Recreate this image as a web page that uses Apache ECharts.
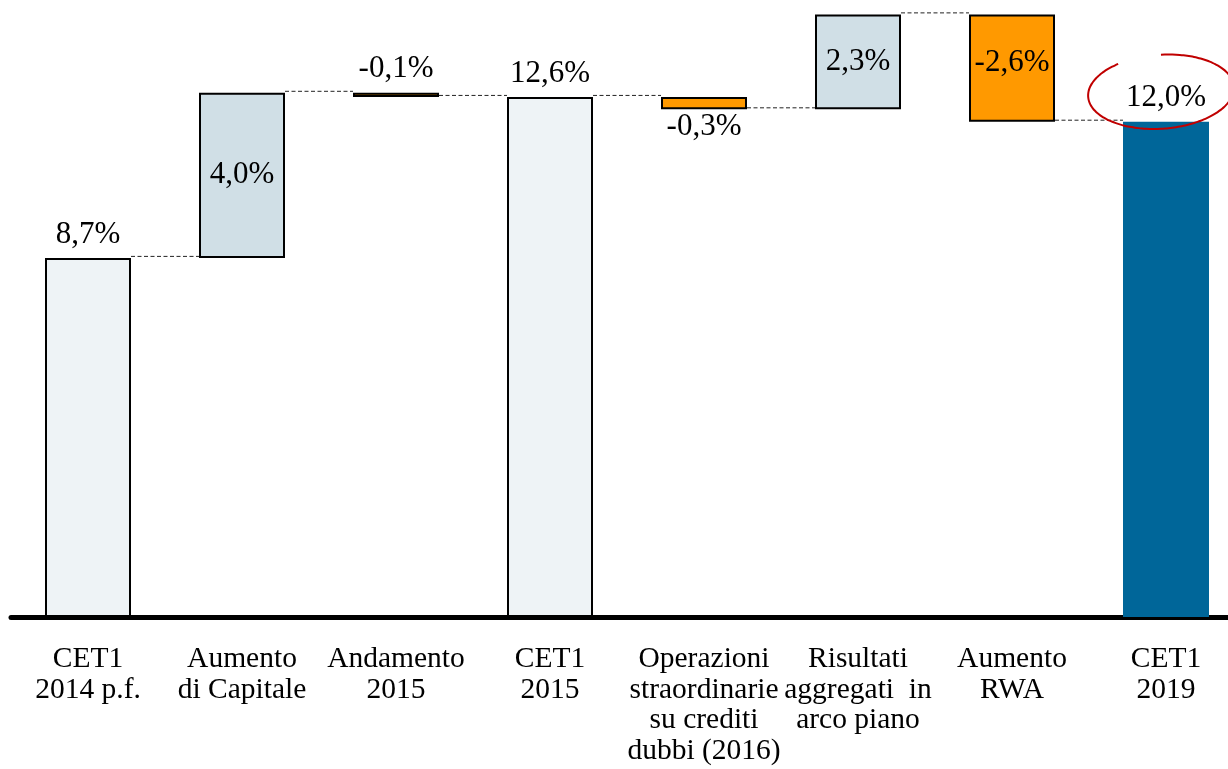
<!DOCTYPE html>
<html>
<head>
<meta charset="utf-8">
<script src="https://cdn.jsdelivr.net/npm/echarts@6/dist/echarts.min.js"></script>
<style>
  html, body { margin: 0; padding: 0; background: #ffffff; }
  #chart { width: 1228px; height: 769px; }
</style>
</head>
<body>
<div id="chart"></div>
<script>
// CET1 ratio bridge, 2014 p.f. -> 2019
const categories = [
  'CET1\n2014 p.f.',
  'Aumento\ndi Capitale',
  'Andamento\n2015',
  'CET1\n2015',
  'Operazioni\nstraordinarie\nsu crediti\ndubbi (2016)',
  'Risultati\naggregati  in\narco piano',
  'Aumento\nRWA',
  'CET1\n2019'
];
// totals are absolute levels, the others are changes (percentage points)
const steps = [8.7, 4.0, -0.1, 12.6, -0.3, 2.3, -2.6, 12.0];
const kinds = ['total', 'delta', 'delta', 'total', 'delta', 'delta', 'delta', 'final'];

const r1 = v => Math.round(v * 10) / 10;
const fmt = v => v.toFixed(1).replace('.', ',') + '%';

// running level, floating base and visible height of each bar
const bases = [], heights = [], levels = [];
let level = 0;
steps.forEach((v, i) => {
  if (kinds[i] === 'delta') {
    const next = r1(level + v);
    bases.push(Math.min(level, next));
    heights.push(Math.abs(v));
    level = next;
  } else {
    bases.push(0);
    heights.push(v);
    level = v;
  }
  levels.push(level);
});

const FILL = { total: '#eef3f6', up: '#d0dfe6', down: '#ff9900', final: '#006699' };
const TEXT = { fontFamily: 'Liberation Serif', color: '#000000' };

function barStyle(i) {
  const k = kinds[i];
  if (k === 'final') return { color: FILL.final, borderWidth: 0 };
  if (k === 'total') return { color: FILL.total, borderColor: '#000', borderWidth: 2 };
  return { color: steps[i] >= 0 ? FILL.up : FILL.down, borderColor: '#000', borderWidth: 2 };
}
function labelPlace(i) {
  if (kinds[i] !== 'delta') return 'top';
  if (Math.abs(steps[i]) < 0.2) return 'top';
  if (Math.abs(steps[i]) < 0.5) return 'bottom';
  return 'inside';
}

const chart = echarts.init(document.getElementById('chart'), null, { renderer: 'canvas' });

chart.setOption({
  animation: false,
  backgroundColor: '#ffffff',
  grid: {
    left: 11, width: 1232, top: 2, bottom: 152,
    containLabel: false, outerBoundsMode: 'none'
  },
  xAxis: {
    type: 'category',
    data: categories,
    axisLine: { show: true, lineStyle: { color: '#000', width: 5 } },
    axisTick: { show: false },
    axisLabel: {
      interval: 0, margin: 27, fontSize: 29.5, lineHeight: 30.5,
      fontFamily: TEXT.fontFamily, color: TEXT.color, align: 'center'
    }
  },
  yAxis: { type: 'value', min: 0, max: 14.9, show: false, splitLine: { show: false } },
  series: [
    {
      type: 'bar', stack: 'w', barWidth: 86, silent: true,
      itemStyle: { color: 'transparent' },
      data: bases
    },
    {
      type: 'bar', stack: 'w', barWidth: 86,
      data: heights.map((h, i) => ({
        value: h,
        itemStyle: barStyle(i),
        label: {
          show: true,
          position: labelPlace(i),
          distance: labelPlace(i) === 'bottom' ? 2 : 8,
          offset: labelPlace(i) === 'inside' && steps[i] < 0 ? [0, -5] : [0, 0],
          formatter: () => fmt(steps[i]),
          fontSize: 31, fontFamily: TEXT.fontFamily, color: TEXT.color
        }
      }))
    },
    {
      // dashed connectors between consecutive bars
      type: 'custom', silent: true, z: 1,
      data: levels.slice(0, -1).map((lv, i) => [i, lv]),
      renderItem: (params, api) => {
        const p = api.coord([api.value(0), api.value(1)]);
        const step = api.size([1, 0])[0];
        const half = 43;
        return {
          type: 'line',
          shape: { x1: p[0] + half, y1: p[1] - 1.5, x2: p[0] + step - half, y2: p[1] - 1.5 },
          style: { stroke: '#222', lineWidth: 1, lineDash: [4, 2.5] }
        };
      }
    },
    {
      // hand-drawn red ring around the final value
      type: 'custom', silent: true, z: 5,
      data: [[categories.length - 1, levels[levels.length - 1]]],
      renderItem: (params, api) => {
        const p = api.coord([api.value(0), api.value(1)]);
        const cx = p[0] - 5, cy = p[1] - 30, rx = 73, ry = 37;
        const rot = -4 * Math.PI / 180;
        const pts = [];
        for (let a = -88; a <= 236; a += 3) {
          const t = a * Math.PI / 180;
          const x = rx * Math.cos(t), y = ry * Math.sin(t);
          pts.push([cx + x * Math.cos(rot) - y * Math.sin(rot), cy + x * Math.sin(rot) + y * Math.cos(rot)]);
        }
        return {
          type: 'polyline',
          shape: { points: pts, smooth: 0.3 },
          style: { stroke: '#c00000', lineWidth: 2, fill: null }
        };
      }
    }
  ]
});
</script>
</body>
</html>
